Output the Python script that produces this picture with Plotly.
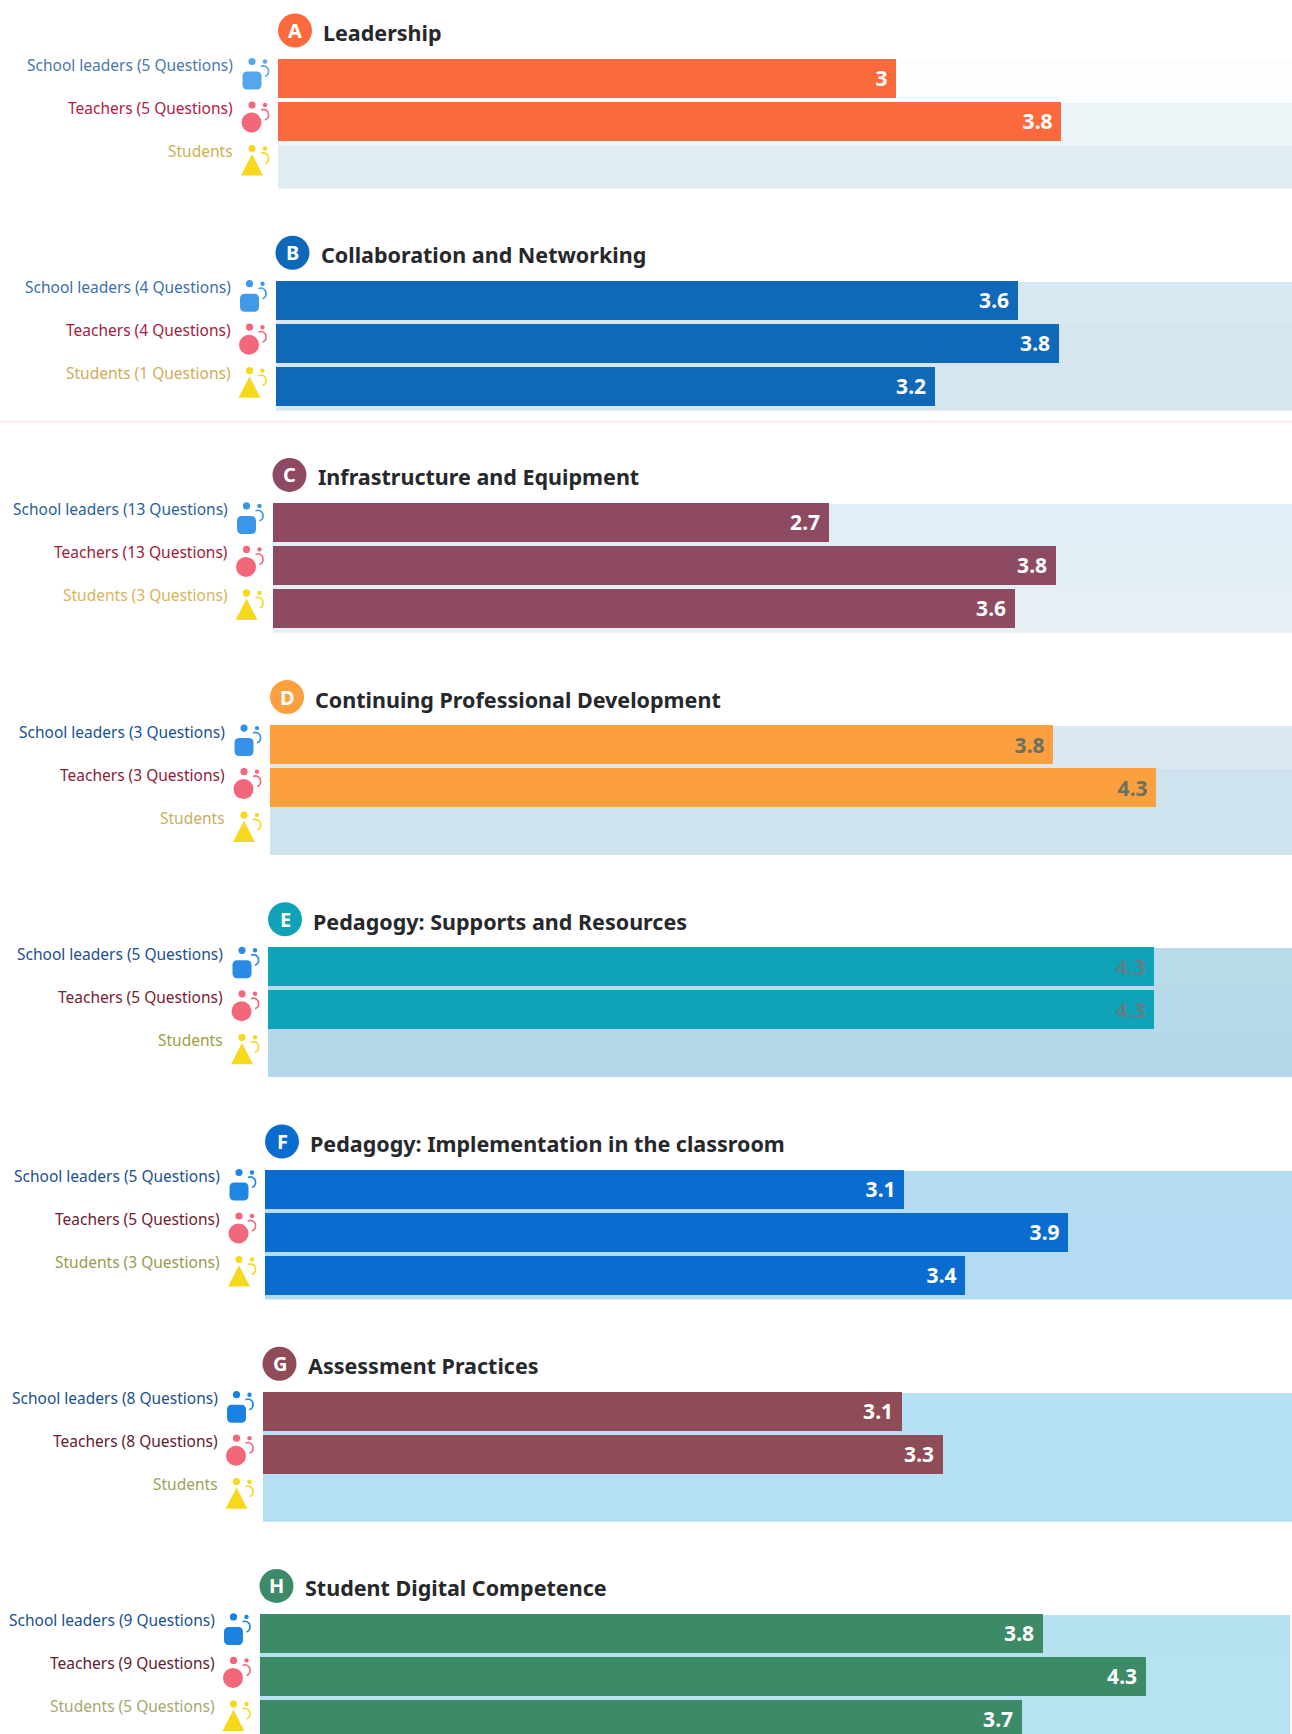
import plotly.graph_objects as go

W, H = 1292, 1734
ROLES = ["School leaders", "Teachers", "Students"]
LETTERS = ["A", "B", "C", "D", "E", "F", "G", "H"]
TITLES = ["Leadership", "Collaboration and Networking", "Infrastructure and Equipment",
          "Continuing Professional Development", "Pedagogy: Supports and Resources",
          "Pedagogy: Implementation in the classroom", "Assessment Practices",
          "Student Digital Competence"]
LEADERS = [3, 3.6, 2.7, 3.8, 4.3, 3.1, 3.1, 3.8]
TEACHERS = [3.8, 3.8, 3.8, 4.3, 4.3, 3.9, 3.3, 4.3]
STUDENTS = [None, 3.2, 3.6, None, None, 3.4, None, 3.7]
Q_LEADERS = [5, 4, 13, 3, 5, 5, 8, 9]
Q_TEACHERS = [5, 4, 13, 3, 5, 5, 8, 9]
Q_STUDENTS = [None, 1, 3, None, None, 3, None, 5]
SCALE_MAX = 5

COLORS = ["#fb6a3c", "#0f68b8", "#8d4a62", "#fb9f3f", "#10a3b8", "#0b6cd0", "#8f4b58", "#3c8a68"]
BANDS = [["#fcfdfe", "#eef5f8", "#e2edf3"], ["#d8e8f2", "#d5e6f1", "#d6e7f0"],
         ["#e2eef5", "#e4eff5", "#e6f0f5"], ["#dbe9f2", "#cfe3ee", "#cfe3ee"],
         ["#b8dbea", "#b5d9ea", "#b2d7e8"], ["#b5dcf1", "#b3dcf2", "#b3dcf2"],
         ["#b6e0f4", "#b5e0f4", "#b5dff2"], ["#b6e1f1", "#b6e2f2", "#b6e2f2"]]
LABEL_INK = [["#4a78ad", "#b3203f", "#cdb04f"], ["#3a70ad", "#a5203c", "#d2ac5a"],
             ["#2a5f9c", "#a02038", "#d8b45a"], ["#20508f", "#8c2034", "#c8b060"],
             ["#20508f", "#7c2030", "#a0a040"], ["#20508f", "#702030", "#9a9a50"],
             ["#20508f", "#642030", "#a0a060"], ["#20508f", "#602030", "#a8a870"]]
VALUE_INK = ["#ffffff", "#ffffff", "#ffffff", "#69705f", "#5c8088", "#ffffff", "#ffffff", "#ffffff"]
BLUES = ["#55a6ea", "#3f9be8", "#3a96e8", "#3592e8", "#2a8ae6", "#1f86e4", "#1a82e2", "#1a82e0"]

LEFT = [278, 275.5, 272.5, 270, 268, 265, 262.5, 259.5]
PX_PER_UNIT = 206
TOP0, PITCH, SLOT = 56.5, 222.2, 43
BAND_SHIFT = 3
FONT = "Noto Sans"


def px(x):
    return x / W


def py(y):
    return 1 - y / H


def pt(x, y):
    return f"{px(x):.5f},{py(y):.5f}"


def circle(cx, cy, r, color):
    return dict(type="circle", xref="paper", yref="paper", x0=px(cx - r), x1=px(cx + r),
                y0=py(cy - r), y1=py(cy + r), fillcolor=color, line_width=0, layer="above")


def rounded(x0, y0, x1, y1, r, color):
    d = (f"M{pt(x0 + r, y0)} L{pt(x1 - r, y0)} Q{pt(x1, y0)} {pt(x1, y0 + r)} L{pt(x1, y1 - r)} "
         f"Q{pt(x1, y1)} {pt(x1 - r, y1)} L{pt(x0 + r, y1)} Q{pt(x0, y1)} {pt(x0, y1 - r)} "
         f"L{pt(x0, y0 + r)} Q{pt(x0, y0)} {pt(x0 + r, y0)} Z")
    return dict(type="path", xref="paper", yref="paper", path=d, fillcolor=color, line_width=0, layer="above")


def tri(cx, y0, y1, hw, color):
    d = f"M{pt(cx, y0)} L{pt(cx + hw, y1)} L{pt(cx - hw, y1)} Z"
    return dict(type="path", xref="paper", yref="paper", path=d, fillcolor=color,
                line=dict(color=color, width=3), layer="above")


def arc(x, y, color):
    d = (f"M{pt(x - 4, y + 3)} Q{pt(x, y + 1)} {pt(x + 3, y + 5)} "
         f"Q{pt(x + 5, y + 11)} {pt(x, y + 13)}")
    return dict(type="path", xref="paper", yref="paper", path=d, line=dict(color=color, width=1.6), layer="above")


fig = go.Figure()
shapes, annotations = [], []
layout = dict(width=W, height=H, margin=dict(l=0, r=0, t=0, b=0), autosize=False,
              paper_bgcolor="#ffffff", plot_bgcolor="rgba(0,0,0,0)", showlegend=False,
              bargap=0, barmode="overlay", font=dict(family=FONT))

for i in range(8):
    sfx = "" if i == 0 else str(i + 1)
    xa, ya = "x" + sfx, "y" + sfx
    left = LEFT[i]
    top = TOP0 + PITCH * i
    bottom = top + 3 * SLOT
    vis_bottom = min(bottom + BAND_SHIFT, H)
    layout["xaxis" + sfx] = dict(domain=[px(left), 1], range=[0, (W - left) / PX_PER_UNIT], visible=False,
                                 anchor=ya, fixedrange=True)
    layout["yaxis" + sfx] = dict(domain=[py(vis_bottom), py(top)], visible=False, anchor=xa, type="category",
                                 range=[-0.5 + (vis_bottom - top) / SLOT, -0.5], fixedrange=True)
    vals = [LEADERS[i], TEACHERS[i], STUDENTS[i]]
    qs = [Q_LEADERS[i], Q_TEACHERS[i], Q_STUDENTS[i]]
    fig.add_trace(go.Bar(x=[SCALE_MAX] * 3, y=ROLES, orientation="h", width=1.0, offset=-0.5 + BAND_SHIFT / SLOT,
                         marker=dict(color=BANDS[i], line_width=0),
                         xaxis=xa, yaxis=ya, hoverinfo="skip"))
    fig.add_trace(go.Bar(x=vals, y=ROLES, orientation="h", width=0.9, marker=dict(color=COLORS[i], line_width=0),
                         text=[("" if v is None else f"{v:g}\u00a0") for v in vals], textposition="inside",
                         insidetextanchor="end", textangle=0, constraintext="none",
                         insidetextfont=dict(family=FONT, size=21, color=VALUE_INK[i], weight=700),
                         xaxis=xa, yaxis=ya))
    for r, role in enumerate(ROLES):
        label = role if qs[r] is None else f"{role} ({qs[r]} Questions)"
        annotations.append(dict(text=label, xref="paper", yref=ya, x=px(left - 43), y=role, xanchor="right",
                                yanchor="middle", yshift=13, showarrow=False,
                                font=dict(family=FONT, size=15.5, color=LABEL_INK[i][r])))
    cy = 30.5 + PITCH * i
    shapes.append(circle(left + 17, cy, 17, COLORS[i]))
    annotations.append(dict(text=f"<b>{LETTERS[i]}</b>", xref="paper", yref="paper", x=px(left + 17), y=py(cy),
                            xanchor="center", yanchor="middle", showarrow=False,
                            font=dict(family=FONT, size=20, color="#ffffff")))
    annotations.append(dict(text=f"<b>{TITLES[i]}</b>", xref="paper", yref="paper", x=px(left + 43), y=py(cy + 2),
                            xanchor="left", yanchor="middle", showarrow=False,
                            font=dict(family=FONT, size=21.5, color="#26282b")))
    ix = left - 26
    for r, col in enumerate([BLUES[i], "#f2687a", "#f6d91e"]):
        ry = top + 5 + r * 43.5
        shapes.append(circle(ix, ry, 3.6, col))
        shapes.append(circle(ix + 13, ry, 2.2, col))
        shapes.append(arc(ix + 13, ry + 2, col))
        if r == 0:
            shapes.append(rounded(ix - 9.5, ry + 10, ix + 9.5, ry + 28, 5, col))
        elif r == 1:
            shapes.append(circle(ix - 0.5, ry + 17.5, 10, col))
        else:
            shapes.append(tri(ix, ry + 9, ry + 25.5, 8.5, col))

shapes.append(dict(type="line", xref="paper", yref="paper", x0=0, x1=1, y0=py(421.5), y1=py(421.5),
                   line=dict(color="#fbe6ea", width=1.5)))
layout["shapes"] = shapes
layout["annotations"] = annotations
fig.update_layout(**layout)
fig.write_html("out.html", config=dict(displayModeBar=False),
               post_script="document.body.style.margin='0';document.body.style.overflow='hidden';")
